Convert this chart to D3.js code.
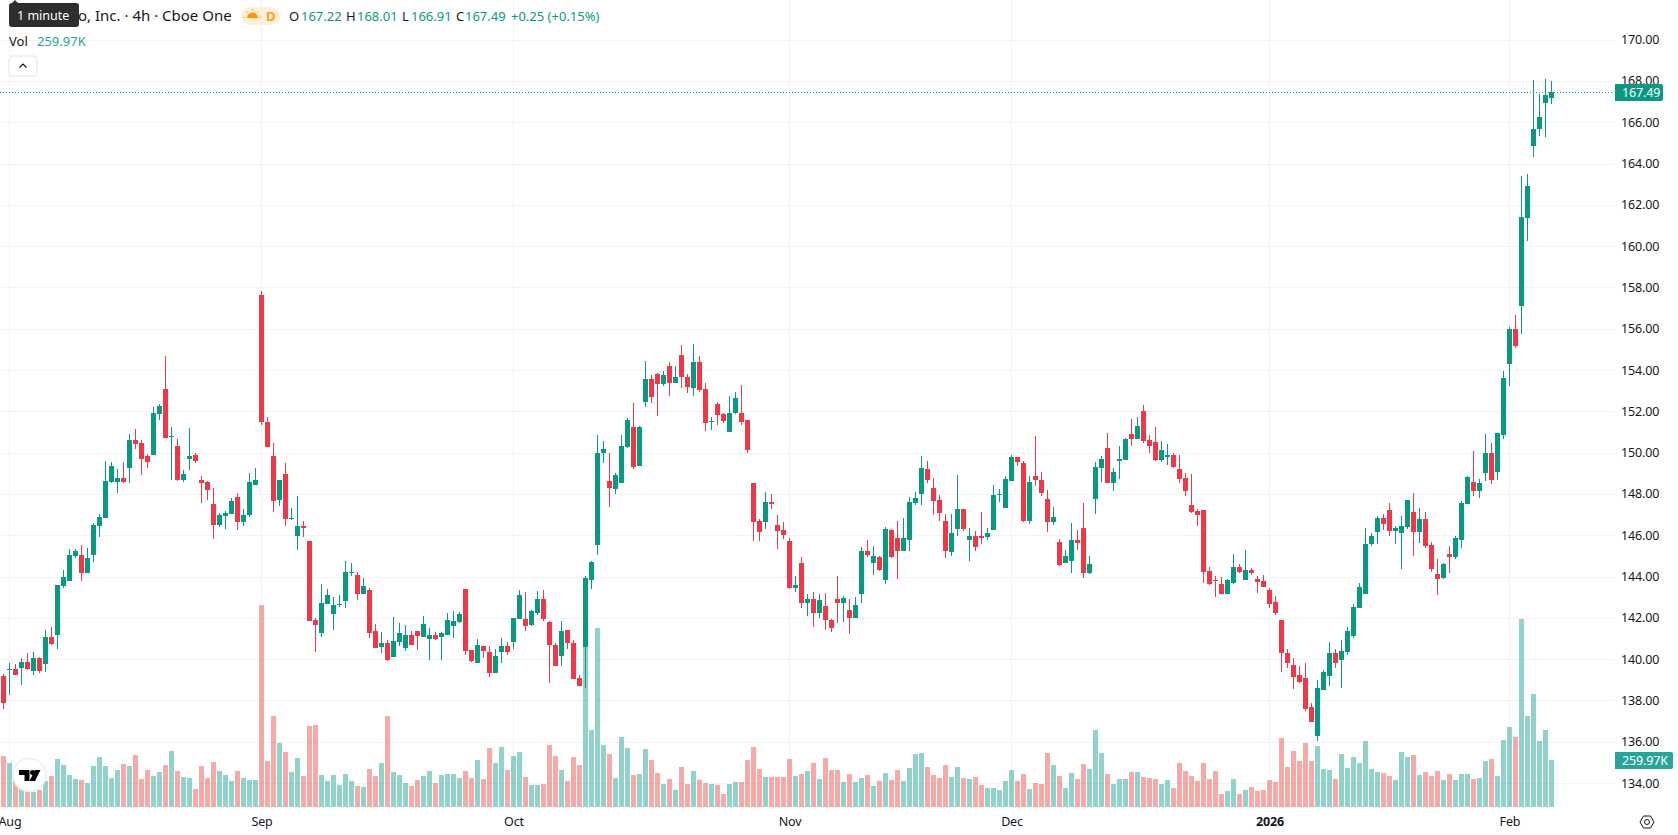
<!DOCTYPE html>
<html>
<head>
<meta charset="utf-8">
<title>4h candlestick chart</title>
<script src="https://cdn.jsdelivr.net/npm/d3@7/dist/d3.min.js"></script>
<style>
  html, body { margin: 0; padding: 0; background: #fff; overflow: hidden; }
  svg { display: block; }
  text { font-family: "Noto Sans", sans-serif; }
</style>
</head>
<body>
<svg id="chart" width="1678" height="835"></svg>
<script>
// Four-hour bars, oldest first
const opens = [139.19,139.48,139.53,139.58,139.87,139.43,140.06,139.77,141.09,141.18,143.57,143.81,145.03,145.07,144.20,145.07,146.48,146.87,148.62,148.58,148.82,149.26,150.62,150.47,149.84,149.89,151.88,153.10,150.78,150.37,148.72,149.74,149.89,148.72,148.62,147.55,146.53,146.97,147.07,147.89,146.68,147.02,148.48,157.67,151.49,149.84,147.75,149.01,146.81,146.00,146.48,145.75,141.91,141.28,142.69,142.20,142.64,142.84,144.21,144.10,143.18,143.37,141.38,140.60,140.79,140.11,140.84,
140.55,141.18,141.38,141.09,140.99,141.18,141.09,141.18,141.62,141.82,143.42,140.45,139.82,140.65,140.36,139.34,140.36,140.65,140.84,141.96,141.96,141.67,142.25,142.93,141.82,140.70,140.16,141.43,140.79,139.09,140.60,143.86,145.56,149.99,148.67,148.28,148.53,150.28,151.25,149.40,152.47,153.58,153.83,153.34,154.22,153.39,154.75,153.68,153.15,154.41,153.10,151.51,152.37,151.88,151.01,151.93,151.93,151.59,148.53,146.73,146.68,147.65,146.53,146.29,145.75,143.47,144.68,142.74,142.93,142.25,
142.59,141.91,142.93,142.74,142.40,142.01,143.18,145.27,144.68,144.98,143.86,146.29,145.90,145.27,145.80,147.60,148.04,149.21,148.33,147.75,146.73,145.22,146.34,147.31,145.80,146.00,146.00,145.95,146.29,147.99,147.36,148.67,149.79,149.50,146.73,148.87,148.72,147.80,146.68,145.71,144.68,144.78,145.80,146.39,144.20,147.80,149.26,150.23,148.53,149.60,149.69,150.91,150.67,152.03,150.62,150.52,149.65,149.79,149.89,149.21,148.82,147.51,147.21,
147.25,144.28,143.85,143.65,143.16,143.70,144.48,143.85,144.33,143.89,143.80,143.36,142.78,141.90,140.34,139.76,139.27,139.13,137.72,136.31,138.54,139.23,140.34,140.00,140.39,141.12,142.48,143.16,145.60,146.18,146.86,147.25,146.23,146.13,146.42,147.15,146.18,146.81,145.55,144.14,143.94,145.11,144.96,145.79,147.54,148.61,148.17,149.05,150.02,149.07,150.89,154.30,156.00,157.12,161.40,164.90,165.68,166.94,167.22];
const highs = [139.32,139.82,139.77,140.06,140.31,140.36,140.11,141.43,141.57,143.61,144.34,145.37,145.37,145.56,145.41,146.63,147.07,149.60,149.55,149.21,149.55,150.91,151.15,150.62,149.94,152.22,152.37,154.70,151.25,150.67,149.16,151.20,149.99,148.87,148.67,148.33,147.12,147.21,147.85,148.09,147.31,149.06,149.26,157.86,151.74,150.47,148.72,149.50,147.36,147.94,146.73,145.75,142.01,143.66,143.42,143.03,143.13,144.78,144.68,144.25,143.96,143.47,141.72,141.33,140.94,142.06,141.77,
141.67,141.38,141.38,142.11,141.52,141.33,141.33,142.25,142.35,142.30,143.42,140.45,140.99,140.65,140.65,140.50,141.04,140.84,142.01,143.37,143.27,142.40,143.32,143.37,141.86,140.79,141.86,141.43,140.94,139.24,144.05,144.78,150.86,150.57,150.03,149.06,150.86,151.69,152.42,151.30,154.46,153.78,153.88,153.97,154.41,154.22,155.24,153.83,155.29,154.70,153.39,151.74,152.47,151.93,152.76,152.95,153.29,151.59,148.53,146.82,148.14,148.04,147.02,146.68,145.90,144.05,144.98,143.18,143.27,143.18,
143.23,141.96,144.05,143.08,142.93,143.03,145.46,145.80,145.51,145.03,146.44,146.34,146.73,146.87,147.89,148.14,149.84,149.60,148.82,147.99,147.07,147.07,148.96,147.31,146.39,146.24,147.16,146.39,148.48,148.28,148.87,149.89,149.79,149.60,148.87,150.81,149.11,148.23,147.41,145.85,145.32,146.63,146.29,147.60,145.03,149.55,149.84,150.96,149.26,150.37,150.72,151.64,151.74,152.32,150.86,151.25,150.57,150.42,150.03,149.89,149.06,149.01,147.31,
147.25,144.48,144.04,143.99,143.89,145.11,144.62,145.30,144.43,144.04,144.09,143.46,143.07,141.90,140.49,140.10,139.71,139.86,137.91,139.03,139.52,140.83,140.49,140.93,141.56,142.68,143.70,146.37,146.13,146.96,147.06,147.59,146.47,146.96,147.74,148.08,147.35,147.15,145.69,144.87,144.67,145.50,145.99,147.69,148.90,150.12,148.76,150.95,150.51,150.97,153.96,156.09,156.68,163.44,163.54,168.06,167.38,168.11,168.01];
const lows = [137.61,138.31,139.24,138.75,139.48,139.24,139.34,139.38,140.70,140.50,143.47,143.81,144.93,143.81,144.20,144.73,145.95,146.87,148.53,148.09,148.53,148.53,150.18,148.96,149.26,149.89,151.59,150.72,148.72,148.67,148.62,149.16,149.50,147.60,147.75,145.85,146.43,146.34,147.07,146.29,146.48,146.92,148.48,151.35,150.28,147.16,147.46,146.48,146.78,145.32,145.95,141.86,140.36,141.09,142.69,141.43,142.55,142.50,144.05,142.89,143.18,141.04,140.55,140.31,139.92,140.11,140.65,
140.41,140.70,140.45,141.09,139.97,140.94,139.97,141.18,141.04,141.77,140.21,139.87,139.82,140.06,139.14,139.34,139.82,140.21,140.50,141.96,141.38,141.62,142.16,141.86,138.85,139.68,139.68,140.50,139.04,138.70,138.61,143.42,145.07,149.50,147.41,148.04,148.53,150.23,149.21,149.40,152.22,152.42,151.78,153.24,152.76,153.39,153.15,152.90,152.76,152.95,151.06,151.10,151.35,151.44,151.01,151.88,151.35,149.99,145.75,145.75,146.34,147.31,145.37,145.85,143.42,143.27,142.50,142.11,141.57,142.01,
141.43,141.33,141.77,141.82,141.23,142.01,142.74,144.98,144.10,144.30,143.66,144.93,143.91,145.27,145.27,147.51,147.51,148.53,147.02,146.73,144.93,145.03,146.00,146.24,144.78,145.27,145.61,145.80,146.29,147.65,147.36,148.67,149.40,146.68,146.58,148.43,147.94,146.19,146.53,144.54,144.68,144.20,145.32,143.96,144.15,147.07,148.62,148.53,148.19,148.77,149.65,150.33,150.67,150.47,150.03,149.60,149.55,149.45,149.30,148.53,147.94,147.12,146.48,
143.70,143.60,143.02,143.16,143.16,143.65,144.19,143.85,144.09,143.21,143.51,142.48,142.14,139.42,139.61,138.59,138.89,137.52,136.99,136.06,138.54,138.74,139.57,138.64,140.20,141.07,142.48,143.16,145.50,145.60,146.28,145.99,145.60,144.38,146.33,145.01,145.65,145.40,144.23,143.12,143.89,144.19,144.87,145.40,147.54,147.93,147.83,148.66,148.51,148.71,150.70,153.23,155.07,155.75,160.28,164.36,165.38,165.33,166.91];
const closes = [137.90,139.53,139.24,139.87,139.53,140.06,139.43,141.09,140.75,143.61,144.00,145.07,145.27,144.20,144.93,146.53,146.92,148.67,149.40,148.82,148.62,150.62,150.42,149.74,149.55,151.93,152.27,150.72,150.81,148.72,149.01,149.84,149.60,148.53,148.23,146.53,147.02,147.12,147.70,146.68,147.02,148.62,148.72,151.49,150.28,147.70,148.72,146.82,146.87,146.48,146.39,141.86,141.67,142.74,143.13,142.64,142.69,144.25,144.25,143.18,143.57,141.28,140.55,140.79,139.97,140.89,141.28,
141.18,140.70,141.13,141.72,141.18,140.99,141.28,141.91,141.86,142.20,140.41,139.92,140.70,140.41,139.34,140.16,140.65,140.36,142.01,143.13,141.62,142.35,142.93,141.96,140.70,139.68,141.38,140.79,139.04,138.70,143.96,144.73,150.03,150.18,148.33,148.92,150.33,151.59,149.35,151.25,153.58,152.71,153.34,153.78,153.39,153.68,153.68,153.20,154.41,153.05,151.44,151.54,151.83,151.54,151.93,152.66,151.49,150.13,146.68,146.19,147.65,147.55,146.24,146.05,143.47,143.61,142.74,142.93,142.25,142.89,
141.91,141.52,142.74,142.98,142.01,142.64,145.27,145.07,145.03,144.34,146.34,144.98,145.27,145.90,147.65,147.85,149.26,148.72,147.70,147.12,145.27,146.14,147.31,146.34,146.00,145.46,145.90,146.14,147.99,148.04,148.77,149.79,149.55,146.73,148.62,148.72,148.09,146.68,146.92,144.59,145.03,145.80,145.66,144.20,144.64,149.35,149.74,148.53,149.11,149.74,150.67,150.67,151.30,150.57,150.33,149.65,150.13,149.89,149.35,148.77,148.19,147.16,147.02,
144.23,143.65,143.80,143.16,143.85,144.48,144.23,144.33,144.19,143.75,143.51,142.68,142.24,140.30,139.86,139.18,138.93,137.62,136.99,138.64,139.42,140.34,139.86,140.44,141.37,142.53,143.51,145.60,145.99,146.86,146.57,146.23,146.37,146.47,147.74,146.18,146.81,145.50,144.38,143.89,144.62,144.96,145.89,147.59,148.85,148.17,148.56,150.02,148.71,150.97,153.66,156.00,155.17,161.44,162.95,165.68,166.26,167.33,167.49];
// Bar volume, thousands of shares
const volumes = [282,243,149,103,85,85,94,144,171,265,232,177,155,149,133,227,276,227,160,205,238,227,288,155,205,171,194,232,310,199,166,160,100,227,160,249,199,177,144,199,160,149,149,1117,254,503,354,304,194,271,171,448,453,177,144,177,122,182,144,116,111,210,171,243,503,194,177,
133,116,149,171,199,133,177,182,182,160,199,160,260,155,326,243,332,205,282,304,166,122,122,127,343,282,205,144,276,232,886,426,990,343,293,160,387,326,177,182,321,260,188,127,155,94,221,127,199,149,133,127,122,72,127,138,138,260,332,210,166,166,166,166,265,171,182,199,243,155,
271,205,205,138,182,138,160,177,116,144,188,149,205,144,216,293,299,221,177,160,232,166,221,160,155,166,122,105,105,94,144,205,144,182,100,133,127,299,232,171,105,188,155,238,210,426,299,182,127,155,155,194,194,166,160,155,127,149,105,243,199,171,144,
243,155,199,72,88,155,72,94,111,88,94,149,138,382,221,310,254,354,254,337,210,205,155,293,216,276,243,365,210,194,188,171,149,304,276,288,177,194,171,199,149,182,149,182,182,155,160,254,265,171,370,442,387,1039,503,625,365,426,259.97];

// Axis contents
const priceTicks = [134,136,138,140,142,144,146,148,150,152,154,156,158,160,162,164,166,168,170];
const timeTickBars = [1,43,85,131,168,211,251];
const timeTickLabels = ["Aug","Sep","Oct","Nov","Dec","2026","Feb"];
const lastPrice = 167.49;
const lastVolume = 259.97;

const UP = "#089981", DOWN = "#F23645";
const VOL_UP = "rgba(38,166,154,0.5)", VOL_DOWN = "rgba(239,83,80,0.5)";
const GRID = "#f3f3f4", TEXT = "#131722";
const FONT = '"Noto Sans", sans-serif';
const AXIS_SIZE = "12.5px", AXIS_TRACKING = "-0.15px";

const paneRight = 1614, paneBottom = 808;
const x = d3.scaleLinear().domain([0, 258]).range([3.5, 1551.5]);
const y = d3.scaleLinear().domain([134, 170]).range([783.5, 40.2]);
const yVol = d3.scaleLinear().domain([0, 1117]).range([807, 605]);

const svg = d3.select("#chart");
const snap = v => Math.floor(v) + 0.5;

// Gridlines
const grid = svg.append("g");
grid.selectAll("line.h").data(priceTicks).join("line").attr("class", "h")
  .attr("x1", 0).attr("x2", paneRight)
  .attr("y1", d => snap(y(d))).attr("y2", d => snap(y(d)))
  .attr("stroke", GRID);
grid.selectAll("line.v").data(timeTickBars).join("line").attr("class", "v")
  .attr("x1", d => snap(x(d))).attr("x2", d => snap(x(d)))
  .attr("y1", 0).attr("y2", paneBottom)
  .attr("stroke", GRID);

// Volume columns sit behind the candles
const bars = d3.range(opens.length);
const rising = i => closes[i] >= opens[i];
svg.append("g").selectAll("rect").data(bars).join("rect")
  .attr("x", i => x(i) - 2.5)
  .attr("width", 5)
  .attr("y", i => Math.round(yVol(volumes[i])))
  .attr("height", i => yVol(0) - Math.round(yVol(volumes[i])))
  .attr("fill", i => rising(i) ? VOL_UP : VOL_DOWN);

// Candles: one wick and one body per bar
const candles = svg.append("g");
candles.selectAll("line").data(bars).join("line")
  .attr("x1", i => x(i)).attr("x2", i => x(i))
  .attr("y1", i => Math.round(y(highs[i]))).attr("y2", i => Math.round(y(lows[i])))
  .attr("stroke", i => rising(i) ? UP : DOWN);
candles.selectAll("rect").data(bars).join("rect")
  .attr("x", i => x(i) - 2.5)
  .attr("width", 5)
  .attr("y", i => Math.round(y(Math.max(opens[i], closes[i]))))
  .attr("height", i => Math.max(1, Math.round(y(Math.min(opens[i], closes[i]))) - Math.round(y(Math.max(opens[i], closes[i])))))
  .attr("fill", i => rising(i) ? UP : DOWN);

// Last price marker
svg.append("line")
  .attr("x1", 0).attr("x2", paneRight)
  .attr("y1", snap(y(lastPrice))).attr("y2", snap(y(lastPrice)))
  .attr("stroke", UP).attr("stroke-dasharray", "1,2");

// Price axis
const yAxis = svg.append("g")
  .attr("transform", `translate(${paneRight + 7},-0.5)`)
  .call(d3.axisRight(y).tickValues(priceTicks).tickSize(0).tickPadding(0).tickFormat(d3.format(".2f")));
yAxis.select(".domain").remove();
yAxis.selectAll("text").attr("fill", TEXT)
  .style("font-size", AXIS_SIZE).style("letter-spacing", AXIS_TRACKING).style("font-family", FONT);

// Time axis
const xAxis = svg.append("g")
  .attr("transform", `translate(0,${paneBottom})`)
  .call(d3.axisBottom(x).tickValues(timeTickBars).tickSize(0).tickPadding(9)
    .tickFormat(d => timeTickLabels[timeTickBars.indexOf(d)]));
xAxis.select(".domain").remove();
xAxis.selectAll("text").attr("fill", TEXT)
  .style("font-size", AXIS_SIZE).style("letter-spacing", AXIS_TRACKING).style("font-family", FONT)
  .style("font-weight", d => timeTickLabels[timeTickBars.indexOf(d)] === "2026" ? 700 : 400);

// Axis flags for the last price and last volume
function flag(label, top, width, fill) {
  const g = svg.append("g");
  g.append("path")
    .attr("d", `M1615 ${top}H${1615 + width - 2}a2 2 0 0 1 2 2V${top + 15}a2 2 0 0 1 -2 2H1615Z`)
    .attr("fill", fill);
  g.append("text").attr("x", 1622).attr("y", top + 8.5).attr("dy", "0.35em")
    .attr("fill", "#fff").style("font-size", AXIS_SIZE).style("letter-spacing", AXIS_TRACKING).text(label);
}
flag(d3.format(".2f")(lastPrice), Math.round(y(lastPrice)) - 8, 48, UP);
flag(d3.format(".2f")(lastVolume) + "K", Math.round(yVol(lastVolume)) - 8, 58, "#26a69a");

// Legend row
const legendText = (xPos, yPos, str, fill, size = 13) =>
  svg.append("text").attr("x", xPos).attr("y", yPos).attr("dy", "0.35em")
    .attr("fill", fill).style("font-size", size + "px").text(str);

legendText(78, 16, "o, Inc. · 4h · Cboe One", TEXT, 15);
svg.append("rect").attr("x", 241).attr("y", 7).attr("width", 40).attr("height", 18).attr("rx", 9).attr("fill", "#fff0dc");
const sun = svg.append("g").attr("stroke", "#ff9800").attr("fill", "#ff9800");
sun.append("path").attr("d", "M247 18h11a5.5 5.5 0 0 0 -11 0Z").attr("stroke", "none");
sun.append("path").attr("d", "M245 17.5h-1.5M259 17.5h1.5M252.5 10.5v-1.5M247.5 12.5l-1-1M257.5 12.5l1-1");
legendText(266, 16, "D", "#ff9800", 13).style("font-weight", 600);

[[289, "O", "167.22", 301], [346, "H", "168.01", 357], [402, "L", "166.91", 411], [456, "C", "167.49", 465]]
  .forEach(([lx, key, val, vx]) => {
    legendText(lx, 16, key, TEXT);
    legendText(vx, 16, val, UP);
  });
legendText(511, 16, "+0.25 (+0.15%)", UP);
legendText(9, 41, "Vol", TEXT);
legendText(37, 41, "259.97K", "#26a69a");

// Collapse button under the legend
svg.append("rect").attr("x", 9).attr("y", 56).attr("width", 28).attr("height", 20).attr("rx", 3)
  .attr("fill", "#fff").attr("stroke", "#e0e3eb");
svg.append("path").attr("d", "M19.5 67.5l3.5 -3.5l3.5 3.5").attr("fill", "none").attr("stroke", TEXT).attr("stroke-width", 1.2);

// Hover tooltip over the legend
svg.append("path").attr("d", "M12 3l3 -3l3 3h58a3 3 0 0 1 3 3v18a3 3 0 0 1 -3 3h-64a3 3 0 0 1 -3 -3v-18a3 3 0 0 1 3 -3Z")
  .attr("fill", "#2e2e2e");
legendText(17, 15.5, "1 minute", "#fff", 12.5);

// Watermark badge
const mark = svg.append("g");
mark.append("circle").attr("cx", 29.5).attr("cy", 775).attr("r", 16.5).attr("fill", "#fff").attr("stroke", "#eceef2").attr("stroke-width", 1.5);
mark.append("path").attr("d", "M19 770H29.5V781H24.5V775H19Z").attr("fill", "#000");
mark.append("circle").attr("cx", 32.5).attr("cy", 772.5).attr("r", 2.5).attr("fill", "#000");
mark.append("path").attr("d", "M35 770H40.5L35 781H29.5Z").attr("fill", "#000");

// Axis settings icon
const gear = svg.append("g").attr("fill", "none").attr("stroke", TEXT).attr("stroke-width", 1);
gear.append("path").attr("d", "M1640 822l3.5 -6h7l3.5 6l-3.5 6h-7Z");
gear.append("circle").attr("cx", 1647).attr("cy", 822).attr("r", 2.5);
</script>
</body>
</html>
